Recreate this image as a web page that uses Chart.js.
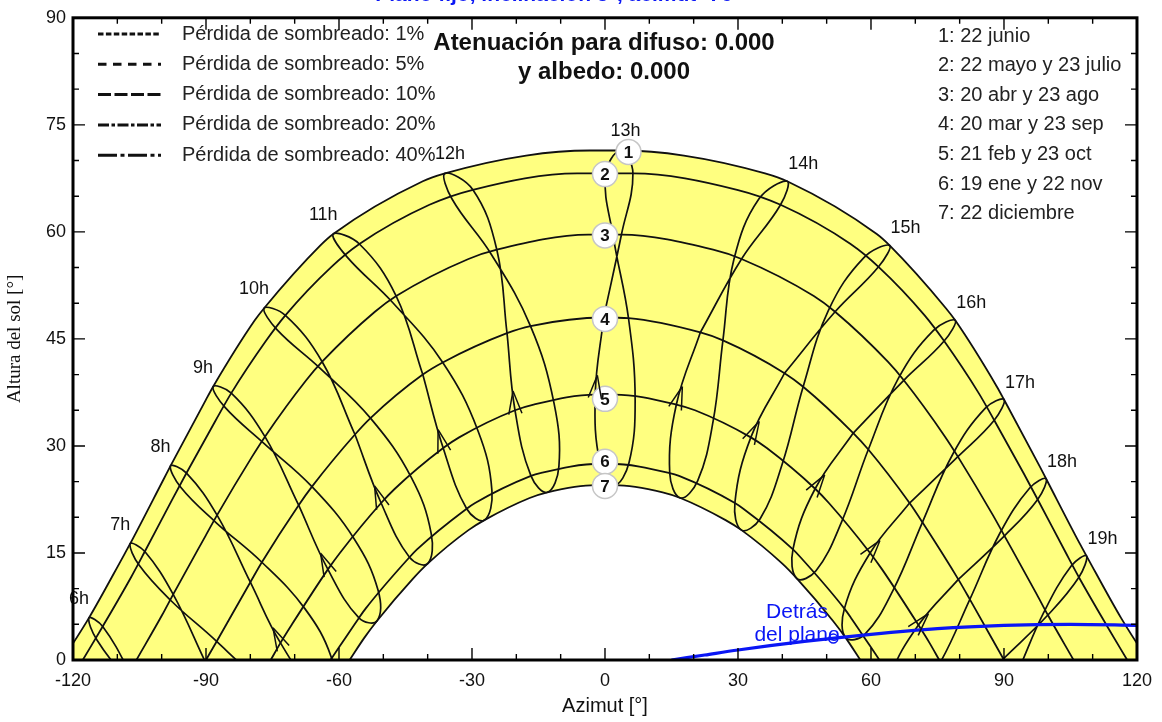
<!DOCTYPE html>
<html>
<head>
<meta charset="utf-8">
<script src="https://cdn.jsdelivr.net/npm/chart.js"></script>
<style>
  html, body { margin: 0; background: #fff; }
  canvas { display: block; }
</style>
</head>
<body>
<canvas id="chart" width="1162" height="722"></canvas>
<script>
// Sun path diagram: hour loops (6h..19h legal time) and 7 date curves, azimut / altura in degrees.

const hours = [6, 7, 8, 9, 10, 11, 12, 13, 14, 15, 16, 17, 18, 19]

// [azimut, altura] of the sun at each hour above, per date (null = far below the horizon)
const dec22 = [null, [-70.9, -14.0], [-61.5, -3.8], [-51.4, 5.5], [-40.0, 13.5], [-27.2, 19.6], [-13.0, 23.5], [2.1, 24.5], [17.0, 22.7], [30.8, 18.2], [43.3, 11.4], [54.3, 3.1], [64.2, -6.5], null]
const jan19 = [null, [-75.1, -14.3], [-65.7, -3.8], [-55.5, 5.9], [-44.1, 14.4], [-31.2, 21.2], [-16.7, 25.8], [-1.1, 27.5], [14.6, 26.2], [29.3, 22.0], [42.4, 15.5], [54.0, 7.2], [64.3, -2.4], [73.8, -12.8]]
const feb21 = [null, [-83.1, -8.5], [-73.2, 2.4], [-62.5, 12.7], [-50.5, 22.0], [-36.5, 29.7], [-20.3, 35.0], [-2.2, 37.2], [16.1, 35.8], [32.9, 31.2], [47.4, 24.0], [59.8, 15.0], [70.7, 4.9], [80.8, -5.9]]
const mar20 = [[-100.3, -11.3], [-90.2, -0.2], [-80.0, 10.9], [-69.1, 21.7], [-56.4, 31.6], [-41.1, 40.0], [-22.1, 45.8], [-0.3, 48.0], [21.5, 45.9], [40.5, 40.2], [56.0, 31.8], [68.7, 22.0], [79.7, 11.3], [89.9, 0.2]]
const apr20 = [[-107.3, -1.7], [-97.4, 9.2], [-87.5, 20.3], [-76.7, 31.3], [-63.8, 41.8], [-47.1, 51.0], [-24.4, 57.5], [3.7, 59.6], [30.8, 56.2], [51.9, 48.8], [67.4, 39.2], [79.6, 28.5], [90.1, 17.4], [99.9, 6.3]]
const may22 = [[-113.3, 4.7], [-103.8, 15.2], [-94.4, 26.2], [-84.3, 37.4], [-72.1, 48.3], [-55.4, 58.3], [-29.8, 65.9], [6.3, 68.2], [39.6, 63.8], [61.7, 55.1], [76.5, 44.7], [87.8, 33.6], [97.6, 22.5], [106.9, 11.6]]
const jun22 = [[-116.4, 5.9], [-107.1, 16.3], [-98.0, 27.2], [-88.4, 38.3], [-76.9, 49.3], [-61.3, 59.7], [-36.1, 68.2], [3.5, 71.4], [41.1, 67.1], [64.2, 58.1], [79.0, 47.6], [90.0, 36.5], [99.5, 25.4], [108.6, 14.6]]
const jul23 = [[-114.6, 2.8], [-105.1, 13.3], [-95.7, 24.2], [-85.7, 35.4], [-74.0, 46.3], [-58.2, 56.5], [-34.5, 64.6], [0.1, 68.0], [34.7, 64.6], [58.4, 56.4], [74.1, 46.2], [85.8, 35.3], [95.8, 24.1], [105.2, 13.2]]
const aug23 = [[-107.7, -2.7], [-97.7, 8.2], [-87.8, 19.3], [-77.0, 30.4], [-64.3, 40.9], [-47.9, 50.1], [-25.7, 56.9], [1.9, 59.2], [29.1, 56.2], [50.4, 49.0], [66.2, 39.5], [78.5, 28.9], [89.1, 17.8], [99.0, 6.7]]
const sep23 = [[-97.7, -8.5], [-87.6, 2.6], [-77.4, 13.7], [-66.1, 24.3], [-52.9, 33.9], [-36.6, 41.7], [-16.8, 46.8], [5.3, 47.9], [26.6, 44.8], [44.7, 38.3], [59.4, 29.5], [71.6, 19.3], [82.3, 8.5], [92.4, -2.6]]
const oct23 = [[-87.8, -14.5], [-77.9, -3.5], [-67.7, 7.2], [-56.6, 17.0], [-43.7, 25.6], [-28.7, 32.2], [-11.5, 36.0], [6.8, 36.5], [24.4, 33.5], [40.0, 27.5], [53.4, 19.4], [65.0, 9.8], [75.3, -0.7], [85.2, -11.6]]
const nov22 = [null, [-71.5, -9.7], [-61.8, 0.5], [-51.2, 9.8], [-39.2, 17.7], [-25.5, 23.7], [-10.4, 27.1], [5.4, 27.6], [20.9, 25.1], [35.0, 19.8], [47.6, 12.5], [58.6, 3.6], [68.5, -6.4], [77.9, -17.1]]

// date curves, horizon to horizon
const curve1 = [[-122.4, 0], [-116.4, 5.9], [-108.6, 14.6], [-107.1, 16.3], [-99.5, 25.4], [-98.0, 27.2], [-90.0, 36.5], [-88.4, 38.3], [-79.0, 47.6], [-76.9, 49.3], [-64.2, 58.1], [-61.3, 59.7], [-41.1, 67.1], [-36.1, 68.2], [-17.8, 70.7], [-3.5, 71.4], [3.5, 71.4], [17.8, 70.7], [36.1, 68.2], [41.1, 67.1], [61.3, 59.7], [64.2, 58.1], [76.9, 49.3], [79.0, 47.6], [88.4, 38.3], [90.0, 36.5], [98.0, 27.2], [99.5, 25.4], [107.1, 16.3], [108.6, 14.6], [116.4, 5.9], [122.4, 0]]
const curve2 = [[-117.8, 0], [-113.3, 4.7], [-106.9, 11.6], [-103.8, 15.2], [-97.6, 22.5], [-94.4, 26.2], [-87.8, 33.6], [-84.3, 37.4], [-76.5, 44.7], [-72.1, 48.3], [-61.7, 55.1], [-55.4, 58.3], [-39.6, 63.8], [-29.8, 65.9], [-6.3, 68.2], [6.3, 68.2], [29.8, 65.9], [39.6, 63.8], [55.4, 58.3], [61.7, 55.1], [72.1, 48.3], [76.5, 44.7], [84.3, 37.4], [87.8, 33.6], [94.4, 26.2], [97.6, 22.5], [103.8, 15.2], [106.9, 11.6], [113.3, 4.7], [117.8, 0]]
const curve3 = [[-105.7, 0], [-99.9, 6.3], [-97.4, 9.2], [-90.1, 17.4], [-87.5, 20.3], [-79.6, 28.5], [-76.7, 31.3], [-67.4, 39.2], [-63.8, 41.8], [-51.9, 48.8], [-47.1, 51.0], [-30.8, 56.2], [-24.4, 57.5], [-3.7, 59.6], [3.7, 59.6], [24.4, 57.5], [30.8, 56.2], [47.1, 51.0], [51.9, 48.8], [63.8, 41.8], [67.4, 39.2], [76.7, 31.3], [79.6, 28.5], [87.5, 20.3], [90.1, 17.4], [97.4, 9.2], [99.9, 6.3], [105.7, 0]]
const curve4 = [[-90, 0], [-87.6, 2.6], [-80.0, 10.9], [-77.4, 13.7], [-69.1, 21.7], [-66.1, 24.3], [-56.4, 31.6], [-52.9, 33.9], [-41.1, 40.0], [-36.6, 41.7], [-22.1, 45.8], [-16.8, 46.8], [-0.3, 48.0], [5.3, 47.9], [21.5, 45.9], [26.6, 44.8], [40.5, 40.2], [44.7, 38.3], [56.0, 31.8], [59.4, 29.5], [68.7, 22.0], [71.6, 19.3], [79.7, 11.3], [82.3, 8.5], [90, 0]]
const curve5 = [[-75.4, 0], [-73.2, 2.4], [-70.7, 4.9], [-62.5, 12.7], [-59.8, 15.0], [-50.5, 22.0], [-47.4, 24.0], [-36.5, 29.7], [-32.9, 31.2], [-20.3, 35.0], [-16.1, 35.8], [-2.2, 37.2], [2.2, 37.2], [16.1, 35.8], [20.3, 35.0], [32.9, 31.2], [36.5, 29.7], [47.4, 24.0], [50.5, 22.0], [59.8, 15.0], [62.5, 12.7], [70.7, 4.9], [73.2, 2.4], [75.4, 0]]
const curve6 = [[-61.9, 0], [-55.5, 5.9], [-54.0, 7.2], [-44.1, 14.4], [-42.4, 15.5], [-31.2, 21.2], [-29.3, 22.0], [-16.7, 25.8], [-14.6, 26.2], [-1.1, 27.5], [1.1, 27.5], [14.6, 26.2], [16.7, 25.8], [29.3, 22.0], [31.2, 21.2], [42.4, 15.5], [44.1, 14.4], [54.0, 7.2], [55.5, 5.9], [61.9, 0]]
const curve7 = [[-57.6, 0], [-54.3, 3.1], [-51.4, 5.5], [-43.3, 11.4], [-40.0, 13.5], [-30.8, 18.2], [-27.2, 19.6], [-17.0, 22.7], [-13.0, 23.5], [-2.1, 24.5], [2.1, 24.5], [13.0, 23.5], [17.0, 22.7], [27.2, 19.6], [30.8, 18.2], [40.0, 13.5], [43.3, 11.4], [51.4, 5.5], [54.3, 3.1], [57.6, 0]]

// limit where the sun passes behind the plane
const behindPlane = [[15, 0], [22.5, 0.7], [30, 1.4], [45, 2.6], [60, 3.6], [75, 4.4], [90, 4.85], [105, 5.0], [120, 4.85]]
const behindMark = [51.5, 3.0]

// numbered date markers
const dateLabelAz = [5.3, 0, 0, 0, 0, 0, 0]
const dateLabelAlt = [71.2, 68.1, 59.5, 47.8, 36.6, 27.8, 24.4]
const dateNames = ['1: 22 junio', '2: 22 mayo y 23 julio', '3: 20 abr y 23 ago', '4: 20 mar y 23 sep', '5: 21 feb y 23 oct', '6: 19 ene y 22 nov', '7: 22 diciembre']
const lossNames = ['Pérdida de sombreado: 1%', 'Pérdida de sombreado: 5%', 'Pérdida de sombreado: 10%', 'Pérdida de sombreado: 20%', 'Pérdida de sombreado: 40%']

const xTicks = [-120, -90, -60, -30, 0, 30, 60, 90, 120]
const yTicks = [0, 15, 30, 45, 60, 75, 90]

const SANS = '"Liberation Sans", Arial, sans-serif'
const SERIF = '"Liberation Serif", "Times New Roman", serif'
const INK = '#111'
const BLUE = '#0a16f5'
const YELLOW = '#ffff80'

const pt = (p) => ({ x: p[0], y: p[1] })

// each hour line runs through the year, started at the equinox so both tips stay smooth
const loopOrder = [mar20, apr20, may22, jun22, jul23, aug23, sep23, oct23, nov22, dec22, jan19, feb21, mar20]

const datasets = []

datasets.push({
  data: dateLabelAz.map((x, i) => ({ x, y: dateLabelAlt[i] })),
  pointRadius: 12.5, pointBackgroundColor: '#fff', pointBorderColor: '#c6c6c6', pointBorderWidth: 1.5,
  order: 0,
})
datasets.push({
  data: behindPlane.map(pt), showLine: true, borderColor: BLUE, borderWidth: 3.2,
  pointRadius: 0, cubicInterpolationMode: 'monotone', order: 1,
})
datasets.push({
  data: [pt(behindMark)], pointRadius: 4.5, pointBorderColor: BLUE, pointBackgroundColor: 'rgba(0,0,0,0)',
  pointBorderWidth: 1.5, order: 1,
})

hours.forEach((h, i) => {
  datasets.push({
    data: loopOrder.map((d) => d[i]).filter(Boolean).map(pt),
    showLine: true, borderColor: INK, borderWidth: 1.7, tension: 0.4, pointRadius: 0, order: 3,
  })
})

const curves = [curve1, curve2, curve3, curve4, curve5, curve6, curve7]
curves.forEach((c, i) => {
  const first = i === 0, last = i === curves.length - 1
  datasets.push({
    data: c.map(pt), showLine: true, borderColor: INK, borderWidth: 1.8, pointRadius: 0,
    cubicInterpolationMode: 'monotone',
    // the yellow band is June down to the horizon, with December's area blanked out again
    fill: first || last ? 'origin' : false,
    backgroundColor: first ? YELLOW : '#fff',
    order: first ? 10 : last ? 9 : 4,
  })
})

const px = (chart, p) => [chart.scales.x.getPixelForValue(p[0]), chart.scales.y.getPixelForValue(p[1])]

const decor = {
  id: 'decor',
  afterDatasetsDraw(chart) {
    const { ctx, chartArea: a } = chart
    ctx.save()
    ctx.beginPath()
    ctx.rect(a.left, a.top, a.right - a.left, a.bottom - a.top)
    ctx.clip()
    // arrowheads on the feb -> mar stretch of each hour line
    ctx.strokeStyle = INK
    ctx.lineWidth = 1.5
    hours.forEach((h, i) => {
      const f = feb21[i], m = mar20[i]
      if (!f || !m || f[1] <= 0) return
      const [fx, fy] = px(chart, f)
      const [mx, my] = px(chart, m)
      const tx = fx + (mx - fx) * 0.25, ty = fy + (my - fy) * 0.25
      const back = Math.atan2(fy - my, fx - mx)
      ctx.beginPath()
      for (const s of [-0.28, 0.28]) {
        ctx.moveTo(tx, ty)
        ctx.lineTo(tx + 24 * Math.cos(back + s), ty + 24 * Math.sin(back + s))
      }
      ctx.stroke()
    })
    ctx.restore()

    ctx.save()
    ctx.font = 'bold 17px ' + SANS
    ctx.textAlign = 'center'
    ctx.textBaseline = 'middle'
    ctx.fillStyle = INK
    dateLabelAz.forEach((az, i) => {
      const [x, y] = px(chart, [az, dateLabelAlt[i]])
      ctx.fillText(String(i + 1), x, y + 1)
    })
    ctx.restore()
  },
  afterDraw(chart) {
    const { ctx, chartArea: a, scales } = chart
    ctx.save()
    ctx.textBaseline = 'middle'

    // hour labels beside the June end of each loop
    ctx.font = '18px ' + SANS
    ctx.textAlign = 'center'
    ctx.fillStyle = INK
    hours.forEach((h, i) => {
      const [x, y] = px(chart, jun22[i])
      const dx = h < 12 ? -10 : h < 14 ? 5 : 16
      const dy = h > 13 ? -17 : -19
      ctx.fillText(h + 'h', x + dx, y + dy)
    })

    // loss legend (top left)
    const dashes = [[5.5, 2.4], [8.5, 6.5], [13, 3.5], [11, 2.5, 3.5, 2.5], [19, 3.5, 4, 3.5]]
    ctx.font = '20px ' + SANS
    ctx.textAlign = 'left'
    ctx.fillStyle = '#222'
    ctx.strokeStyle = INK
    lossNames.forEach((t, i) => {
      const y = 34 + i * 30.3
      ctx.setLineDash(dashes[i])
      ctx.lineWidth = 3
      ctx.beginPath()
      ctx.moveTo(98, y)
      ctx.lineTo(161, y)
      ctx.stroke()
      ctx.setLineDash([])
      ctx.fillText(t, 182, y)
    })

    // date legend (top right)
    dateNames.forEach((t, i) => ctx.fillText(t, 938, 36 + i * 29.6))

    // centre title
    ctx.font = 'bold 24px ' + SANS
    ctx.textAlign = 'center'
    ctx.fillStyle = INK
    ctx.fillText('Atenuación para difuso: 0.000', 604, 43)
    ctx.fillText('y albedo: 0.000', 604, 72)

    // behind-the-plane label
    ctx.font = '21px ' + SANS
    ctx.fillStyle = BLUE
    ctx.fillText('Detrás', 797, 612)
    ctx.fillText('del plano', 797, 635)

    // chart title, cut by the top of the picture
    ctx.font = 'bold 21px ' + SANS
    ctx.textBaseline = 'alphabetic'
    ctx.fillText('Plano fijo, inclinación 5°, acimut -76°', 558, 1)

    // frame and inner ticks
    ctx.strokeStyle = '#000'
    ctx.lineWidth = 1.4
    ctx.beginPath()
    for (let v = -110; v < 120; v += 10) {
      const x = scales.x.getPixelForValue(v)
      const len = v % 30 === 0 ? 12 : 6
      ctx.moveTo(x, a.bottom); ctx.lineTo(x, a.bottom - len)
      ctx.moveTo(x, a.top); ctx.lineTo(x, a.top + len)
    }
    for (let v = 5; v < 90; v += 5) {
      const y = scales.y.getPixelForValue(v)
      const len = v % 15 === 0 ? 12 : 6
      ctx.moveTo(a.left, y); ctx.lineTo(a.left + len, y)
      ctx.moveTo(a.right, y); ctx.lineTo(a.right - len, y)
    }
    ctx.stroke()
    ctx.lineWidth = 3
    ctx.strokeRect(a.left, a.top, a.right - a.left, a.bottom - a.top)
    ctx.restore()
  },
}

new Chart(document.getElementById('chart'), {
  type: 'scatter',
  data: { datasets },
  options: {
    responsive: false,
    animation: false,
    events: [],
    layout: { padding: { top: 10, right: 24, left: 0, bottom: 0 } },
    elements: { line: { capBezierPoints: false } },
    scales: {
      x: {
        type: 'linear', min: -120, max: 120,
        afterBuildTicks: (s) => { s.ticks = xTicks.map((value) => ({ value })) },
        afterFit: (s) => { s.height = 62 },
        grid: { display: false, drawTicks: false },
        border: { display: false },
        ticks: { padding: 10, autoSkip: false, maxRotation: 0, color: INK, font: { family: SANS, size: 18 } },
        title: { display: true, text: 'Azimut [°]', color: INK, font: { family: SANS, size: 20 }, padding: { top: 0, bottom: 4 } },
      },
      y: {
        type: 'linear', min: 0, max: 90,
        afterBuildTicks: (s) => { s.ticks = yTicks.map((value) => ({ value })) },
        afterFit: (s) => { s.width = 73 },
        grid: { display: false, drawTicks: false },
        border: { display: false },
        ticks: { padding: 7, autoSkip: false, color: INK, font: { family: SANS, size: 18 } },
        title: { display: true, text: 'Altura del sol [°]', color: INK, font: { family: SERIF, size: 19 }, padding: { top: 4, bottom: 0 } },
      },
    },
    plugins: {
      legend: { display: false },
      tooltip: { enabled: false },
      filler: { drawTime: 'beforeDatasetsDraw' },
    },
  },
  plugins: [decor],
})
</script>
</body>
</html>
